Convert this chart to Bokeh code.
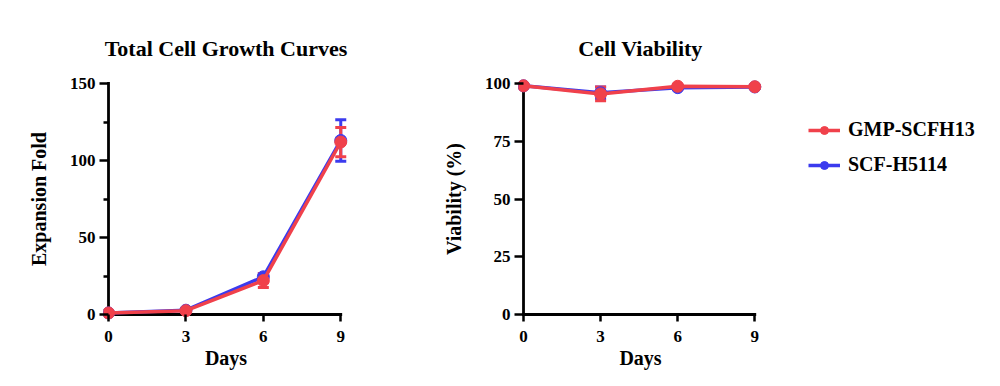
from bokeh.plotting import figure
from bokeh.layouts import row
from bokeh.models import (ColumnDataSource, Whisker, TeeHead, FixedTicker,
                          Legend, LegendItem, Range1d)
from bokeh.embed import file_html
from bokeh.resources import INLINE

# ---- data ----
days = [0, 3, 6, 9]

growth_gmp = [1.0, 2.5, 22.0, 112.0]
growth_gmp_err = [0.5, 1.0, 4.5, 9.5]
growth_scf = [1.0, 2.8, 24.5, 113.0]
growth_scf_err = [0.5, 0.8, 2.0, 13.5]

viab_gmp = [99.0, 95.5, 98.8, 98.6]
viab_gmp_err = [0.5, 3.0, 0.6, 0.5]
viab_scf = [99.0, 96.0, 98.2, 98.5]
viab_scf_err = [0.5, 2.5, 0.6, 0.5]

growth_ticks = [0, 50, 100, 150]
growth_minor = [25, 75, 125]
viab_ticks = [0, 25, 50, 75, 100]

RED = "#F0414B"
BLUE = "#3B3BEE"
FONT = "Liberation Serif"

# gap (px) between the frame edge and the zero lines the axes sit on
GAP = 5


def make_fig(title, fw, fh, xr, yr, left, right):
    p = figure(frame_width=fw, frame_height=fh, output_backend="svg",
               toolbar_location=None, x_range=xr, y_range=yr,
               min_border_left=left, min_border_right=right,
               min_border_top=78, min_border_bottom=67, title=title)
    p.title.align = "center"
    p.title.text_font = FONT
    p.title.text_font_style = "bold"
    p.title.text_font_size = "22px"
    p.title.text_color = "black"
    p.title.standoff = 36
    p.xgrid.visible = False
    p.ygrid.visible = False
    p.outline_line_color = None
    p.background_fill_color = "white"
    p.border_fill_color = "white"
    return p


def style_axes(p, yticks, yminor, xlabel, ylabel):
    for ax in (p.xaxis[0], p.yaxis[0]):
        ax.axis_line_color = None
        ax.major_tick_line_width = 2.5
        ax.minor_tick_line_width = 2.5
        ax.major_tick_line_color = "black"
        ax.minor_tick_line_color = "black"
        ax.major_label_text_font = FONT
        ax.major_label_text_font_style = "bold"
        ax.major_label_text_font_size = "17px"
        ax.major_label_text_color = "black"
        ax.axis_label_text_font = FONT
        ax.axis_label_text_font_style = "bold"
        ax.axis_label_text_font_size = "20px"
        ax.axis_label_text_color = "black"
    xa, ya = p.xaxis[0], p.yaxis[0]
    xa.ticker = FixedTicker(ticks=days)
    ya.ticker = FixedTicker(ticks=yticks, minor_ticks=yminor)
    # ticks start at the frame edge and run up to the zero line
    xa.major_tick_in = GAP
    xa.major_tick_out = 2
    ya.major_tick_in = GAP
    ya.major_tick_out = 4
    ya.minor_tick_in = GAP
    ya.minor_tick_out = 0
    xa.major_label_standoff = 9
    ya.major_label_standoff = 4
    xa.axis_label = xlabel
    ya.axis_label = ylabel
    xa.axis_label_standoff = 2
    ya.axis_label_standoff = 17
    # axis lines along x = 0 and y = 0, spanning the tick range
    p.segment(x0=[days[0], days[0]], y0=[yticks[0], yticks[0]],
              x1=[days[0], days[-1]], y1=[yticks[-1], yticks[0]],
              line_color="black", line_width=2.8, line_cap="square")


def add_series(p, y, err, color):
    src = ColumnDataSource(dict(x=days, y=y,
                                lo=[a - b for a, b in zip(y, err)],
                                hi=[a + b for a, b in zip(y, err)]))
    ln = p.line("x", "y", source=src, line_color=color, line_width=3.5)
    w = Whisker(source=src, base="x", upper="hi", lower="lo",
                line_color=color, line_width=3,
                upper_head=TeeHead(size=11, line_color=color, line_width=3),
                lower_head=TeeHead(size=11, line_color=color, line_width=3))
    p.add_layout(w)
    sc = p.scatter("x", "y", source=src, size=12, fill_color=color,
                   line_color=color)
    return ln, sc


# ---- left: total cell growth ----
px_x1 = 232 / 9
px_y1 = 231 / 150
xr1 = Range1d(-GAP / px_x1, 9.3)
yr1 = Range1d(-GAP / px_y1, 241 / px_y1 - GAP / px_y1)
p1 = make_fig("Total Cell Growth Curves", round((9.3 + GAP / px_x1) * px_x1),
              241, xr1, yr1, 103, 72)
style_axes(p1, growth_ticks, growth_minor, "Days", "Expansion Fold")
add_series(p1, growth_scf, growth_scf_err, BLUE)
add_series(p1, growth_gmp, growth_gmp_err, RED)

# ---- right: viability ----
px_x2 = 231 / 9
px_y2 = 231 / 100
xr2 = Range1d(-GAP / px_x2, 9.3)
yr2 = Range1d(-GAP / px_y2, 241 / px_y2 - GAP / px_y2)
fw2 = round((9.3 + GAP / px_x2) * px_x2)
p2 = make_fig("Cell Viability", fw2, 241, xr2, yr2, 98, 580 - 98 - fw2)
style_axes(p2, viab_ticks, [], "Days", "Viability (%)")
scf_ln, scf_sc = add_series(p2, viab_scf, viab_scf_err, BLUE)
gmp_ln, gmp_sc = add_series(p2, viab_gmp, viab_gmp_err, RED)

legend = Legend(items=[
    LegendItem(label="GMP-SCFH13", renderers=[gmp_ln, gmp_sc]),
    LegendItem(label="SCF-H5114", renderers=[scf_ln, scf_sc]),
], location=(46, 143))
legend.label_text_font = FONT
legend.label_text_font_style = "bold"
legend.label_text_font_size = "20px"
legend.label_text_color = "black"
legend.glyph_width = 32
legend.glyph_height = 20
legend.label_height = 20
legend.label_standoff = 8
legend.spacing = 12
legend.padding = 0
legend.margin = 0
legend.border_line_color = None
legend.background_fill_alpha = 0
p2.add_layout(legend, "right")

layout = row(p1, p2)
open("out.html", "w").write(file_html(layout, INLINE))
